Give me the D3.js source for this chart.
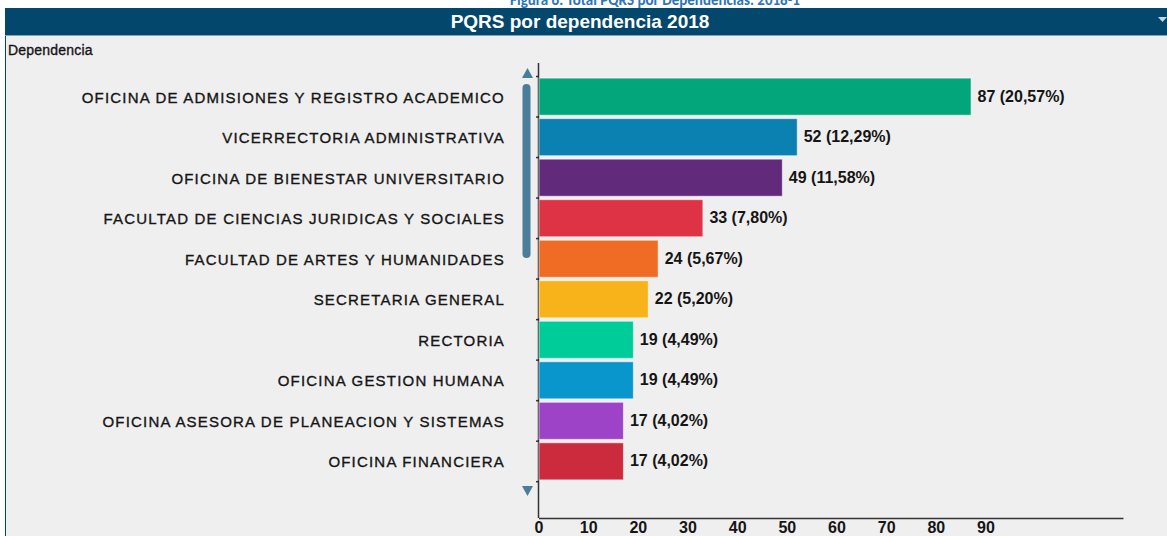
<!DOCTYPE html>
<html lang="es">
<head>
<meta charset="UTF-8" />
<title>PQRS por dependencia 2018</title>
<script src="https://d3js.org/d3.v7.min.js"></script>
<style>
  body { margin: 0; background: #fff; }
  svg { display: block; }
  .cat { font-family: "Liberation Sans", Arial, sans-serif; font-size: 15px; fill: #151515; stroke: #151515; stroke-width: 0.35px; letter-spacing: 1.2px; }
  .val { font-family: "Liberation Sans", Arial, sans-serif; font-size: 16px; font-weight: bold; fill: #151515; }
  .tick text { font-family: "Liberation Sans", Arial, sans-serif; font-size: 16px; font-weight: bold; fill: #151515; }
</style>
</head>
<body>
<svg id="chart" width="1167" height="536"></svg>
<script>
/* ---------------- DATA ---------------- */

const dependencias = [
  "OFICINA DE ADMISIONES Y REGISTRO ACADEMICO",
  "VICERRECTORIA ADMINISTRATIVA",
  "OFICINA DE BIENESTAR UNIVERSITARIO",
  "FACULTAD DE CIENCIAS JURIDICAS Y SOCIALES",
  "FACULTAD DE ARTES Y HUMANIDADES",
  "SECRETARIA GENERAL",
  "RECTORIA",
  "OFICINA GESTION HUMANA",
  "OFICINA ASESORA DE PLANEACION Y SISTEMAS",
  "OFICINA FINANCIERA"
];

const totales = [87, 52, 49, 33, 24, 22, 19, 19, 17, 17];

const porcentajes = ["20,57%", "12,29%", "11,58%", "7,80%", "5,67%", "5,20%", "4,49%", "4,49%", "4,02%", "4,02%"];

const colores = ["#03a57b", "#0a81b0", "#622a7b", "#de3344", "#f06c25",
                 "#f8b21a", "#00cc99", "#0896cc", "#9c43c8", "#cc2b3d"];

const xTicks = [0, 10, 20, 30, 40, 50, 60, 70, 80, 90];
const xMax = 117.7;

/* ---------------- SETUP ---------------- */

const svg = d3.select("#chart");

// caption, cut at the top of the page (as in the source)
svg.append("text")
  .attr("x", 655).attr("y", 5)
  .attr("text-anchor", "middle")
  .style("font-family", "Carlito, Calibri, sans-serif")
  .style("font-size", "15px").style("font-weight", "bold")
  .style("fill", "#2e74b5")
  .text("Figura 6. Total PQRS por Dependencias. 2018-1");

// panel
svg.append("rect").attr("x", 5).attr("y", 8).attr("width", 1162).attr("height", 528).attr("fill", "#efefef");
svg.append("line").attr("x1", 5.5).attr("x2", 5.5).attr("y1", 8).attr("y2", 536).attr("stroke", "#04476c");

// title bar
svg.append("rect").attr("x", 5).attr("y", 8).attr("width", 1162).attr("height", 27).attr("fill", "#04476c");
svg.append("line").attr("x1", 5).attr("x2", 1167).attr("y1", 35.5).attr("y2", 35.5).attr("stroke", "#7fa3b8");
svg.append("text")
  .attr("x", 580).attr("y", 28)
  .attr("text-anchor", "middle")
  .style("font-family", "\"Liberation Sans\", Arial, sans-serif")
  .style("font-size", "19px").style("font-weight", "bold").style("fill", "#fff")
  .text("PQRS por dependencia 2018");
svg.append("path").attr("d", "M1158,17 L1167,17 L1162.5,22 Z").attr("fill", "#c8d6e0");

svg.append("text")
  .attr("x", 8).attr("y", 55)
  .attr("class", "cat").style("font-size", "14px").style("letter-spacing", "0.2px")
  .text("Dependencia");

/* ---------------- SCALES ---------------- */

const x = d3.scaleLinear().domain([0, xMax]).range([538.5, 1123]);
const y = d3.scaleBand().domain(dependencias).range([76.5, 481.5]).paddingInner(0.085).paddingOuter(0.04);

/* ---------------- AXES ---------------- */

svg.append("line")
  .attr("x1", 538.5).attr("x2", 538.5).attr("y1", 63).attr("y2", 518)
  .attr("stroke", "#333").attr("stroke-width", 1.5);

const bounds = d3.range(dependencias.length + 1).map(i => y.range()[0] + i * y.step());
svg.selectAll(".ytick")
  .data(bounds)
  .enter().append("line")
  .attr("x1", 536).attr("x2", 539)
  .attr("y1", d => d).attr("y2", d => d)
  .attr("stroke", "#333").attr("stroke-width", 1.5);

const xAxis = svg.append("g")
  .attr("transform", "translate(0,518)")
  .call(d3.axisBottom(x).tickValues(xTicks).tickSize(0).tickPadding(4));
xAxis.select(".domain").attr("stroke", "#333").attr("stroke-width", 1.5);

/* ---------------- BARS ---------------- */

svg.selectAll(".bar")
  .data(dependencias)
  .enter().append("rect")
  .attr("x", x(0) + 0.5)
  .attr("y", d => y(d))
  .attr("width", (d, i) => x(totales[i]) - x(0))
  .attr("height", y.bandwidth())
  .attr("fill", (d, i) => colores[i])
  .attr("stroke", "rgba(255,255,255,0.55)")
  .attr("stroke-width", 1);

svg.selectAll(".val")
  .data(dependencias)
  .enter().append("text")
  .attr("class", "val")
  .attr("x", (d, i) => x(totales[i]) + 7)
  .attr("y", d => y(d) + y.bandwidth() / 2 + 5)
  .text((d, i) => `${totales[i]} (${porcentajes[i]})`);

svg.selectAll(".cat-label")
  .data(dependencias)
  .enter().append("text")
  .attr("class", "cat")
  .attr("x", 505)
  .attr("y", d => y(d) + y.bandwidth() / 2 + 6)
  .attr("text-anchor", "end")
  .text(d => d);

/* ---------------- SCROLLBAR ---------------- */

svg.append("path").attr("d", "M522,78 L533,78 L527.5,68 Z").attr("fill", "#4a7d99");
svg.append("rect").attr("x", 522.5).attr("y", 84).attr("width", 8).attr("height", 174).attr("rx", 4).attr("fill", "#4a7d99");
svg.append("path").attr("d", "M522,486 L533,486 L527.5,496 Z").attr("fill", "#4a7d99");
</script>
</body>
</html>
